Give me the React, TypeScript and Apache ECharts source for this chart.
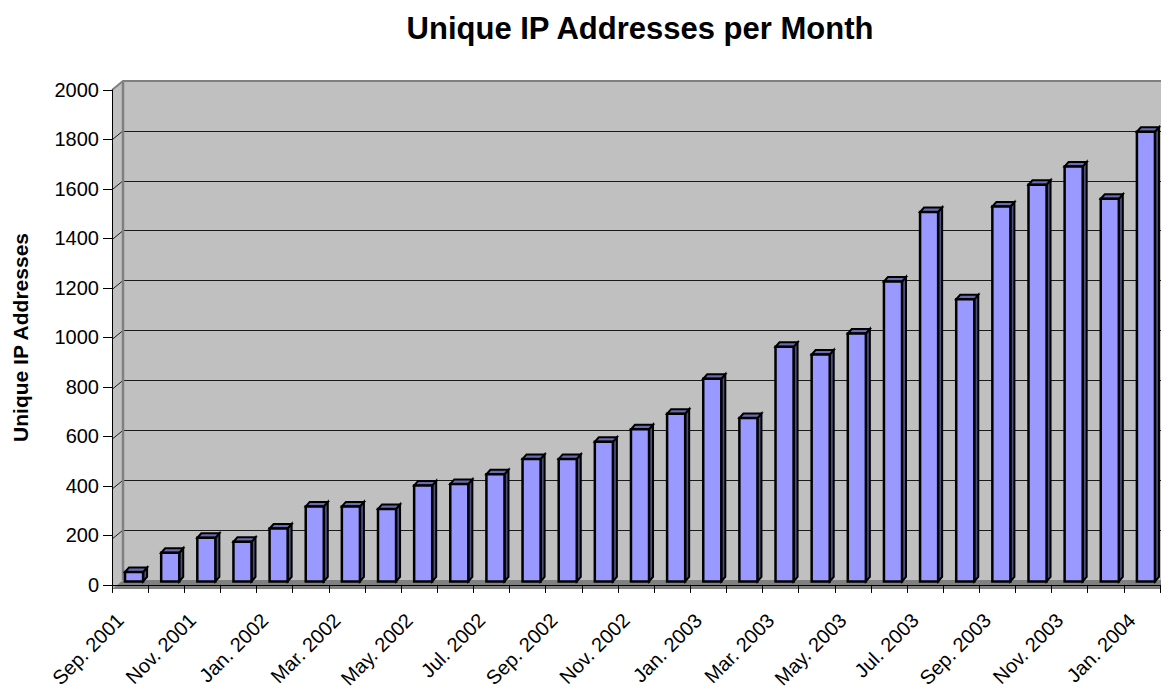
import React, { useEffect, useRef } from "react";
import * as echarts from "echarts";

const months: string[] = [
  "Sep. 2001", "Oct. 2001", "Nov. 2001", "Dec. 2001",
  "Jan. 2002", "Feb. 2002", "Mar. 2002", "Apr. 2002", "May. 2002", "Jun. 2002",
  "Jul. 2002", "Aug. 2002", "Sep. 2002", "Oct. 2002", "Nov. 2002", "Dec. 2002",
  "Jan. 2003", "Feb. 2003", "Mar. 2003", "Apr. 2003", "May. 2003", "Jun. 2003",
  "Jul. 2003", "Aug. 2003", "Sep. 2003", "Oct. 2003", "Nov. 2003", "Dec. 2003",
  "Jan. 2004",
];

const uniqueIPs: number[] = [
  38, 116, 176, 160, 214, 303, 303, 293, 388, 394, 433, 495, 495, 564, 615,
  678, 819, 660, 948, 917, 1002, 1212, 1493, 1140, 1515, 1603, 1677, 1546, 1817,
];

const yTicks: number[] = [0, 200, 400, 600, 800, 1000, 1200, 1400, 1600, 1800, 2000];

const TITLE = "Unique IP Addresses per Month";
const Y_NAME = "Unique IP Addresses";

const W = 1161;
const H = 691;
const FONT = 'Arial, "Liberation Sans", sans-serif';

// layout (front plane of the 3D box and its depth offset)
const FL = 112;
const FT = 90;
const FB = 589;
const FR = 1160;
const DX = 11;
const DY = -9;

export default function App() {
  const ref = useRef<HTMLDivElement>(null);

  useEffect(() => {
    document.body.style.margin = "0";
    if (!ref.current) return;
    const chart = echarts.init(ref.current, undefined, { renderer: "svg" });

    const yMin = yTicks[0];
    const yMax = yTicks[yTicks.length - 1];
    const yStep = yTicks[1] - yTicks[0];
    const fh = FB - FT;
    const yFront = (v: number) => FB - ((v - yMin) / (yMax - yMin)) * fh;

    const graphics: any[] = [];
    // left side wall
    graphics.push({
      type: "polygon",
      z: 1,
      silent: true,
      shape: { points: [[FL, FB], [FL, FT], [FL + DX, FT + DY], [FL + DX, FB + DY]] },
      style: { fill: "#c0c0c0", stroke: "none" },
    });
    // diagonal gridlines on side wall
    yTicks.slice(1, -1).forEach((v) => {
      const y = yFront(v);
      graphics.push({
        type: "line",
        z: 1,
        silent: true,
        shape: { x1: FL, y1: y, x2: FL + DX, y2: y + DY },
        style: { stroke: "#1a1a1a", lineWidth: 1 },
      });
    });
    // floor
    graphics.push({
      type: "polygon",
      z: 1,
      silent: true,
      shape: { points: [[FL, FB], [FL + DX, FB + DY], [W, FB + DY], [W, FB]] },
      style: { fill: "#808080", stroke: "none" },
    });
    // wall borders
    graphics.push({
      type: "polyline",
      z: 1,
      silent: true,
      shape: { points: [[FL, FT], [FL + DX, FT + DY], [W, FT + DY]] },
      style: { stroke: "#808080", lineWidth: 2, fill: "none" },
    });
    graphics.push({
      type: "line",
      z: 1,
      silent: true,
      shape: { x1: FL + DX, y1: FT + DY, x2: FL + DX, y2: FB + DY },
      style: { stroke: "#808080", lineWidth: 2.5 },
    });
    // title
    graphics.push({
      type: "text",
      z: 10,
      x: 640,
      y: 13,
      style: {
        text: TITLE,
        font: `bold 31px ${FONT}`,
        fill: "#000",
        textAlign: "center",
        textVerticalAlign: "top",
      },
    });

    const renderBar = (params: any, api: any) => {
      const i = api.value(0);
      const v = api.value(1);
      const base = api.coord([i, 0]);
      const top = api.coord([i, v]);
      const band = api.size([1, 0])[0];
      const w = band * 0.5;
      const ox = 4;
      const oy = -3.5;
      const ddx = 4;
      const ddy = -4.5;
      const x0 = base[0] + ox - w / 2;
      const x1 = x0 + w;
      const yb = base[1] + oy;
      const yt = top[1] + oy;
      return {
        type: "group",
        children: [
          {
            type: "polygon",
            shape: { points: [[x1, yb], [x1, yt], [x1 + ddx, yt + ddy], [x1 + ddx, yb + ddy]] },
            style: { fill: "#4d4d80", stroke: "#000", lineWidth: 2, lineJoin: "miter" },
          },
          {
            type: "polygon",
            shape: { points: [[x0, yt], [x1, yt], [x1 + ddx, yt + ddy], [x0 + ddx, yt + ddy]] },
            style: { fill: "#6b6bb3", stroke: "#000", lineWidth: 2, lineJoin: "miter" },
          },
          {
            type: "rect",
            shape: { x: x0, y: yt, width: w, height: yb - yt },
            style: { fill: "#9999ff", stroke: "#000", lineWidth: 2.5 },
          },
        ],
      };
    };

    chart.setOption({
      animation: false,
      backgroundColor: "#ffffff",
      textStyle: { fontFamily: FONT },
      grid: [
        { left: FL, top: FT, width: FR - FL, height: fh, containLabel: false },
        {
          left: FL + DX,
          top: FT + DY,
          width: W - (FL + DX),
          height: fh,
          show: true,
          backgroundColor: "#c0c0c0",
          borderWidth: 0,
          containLabel: false,
        },
      ],
      xAxis: [
        {
          gridIndex: 0,
          type: "category",
          data: months,
          boundaryGap: true,
          z: 3,
          axisLine: { show: true, lineStyle: { color: "#000", width: 1 } },
          axisTick: { show: true, interval: 0, length: 8, lineStyle: { color: "#000" } },
          axisLabel: {
            interval: 1,
            rotate: 45,
            margin: 22,
            padding: [0, 14, 0, 0],
            fontSize: 20,
            color: "#000",
            fontFamily: FONT,
          },
          splitLine: { show: false },
        },
        {
          gridIndex: 1,
          type: "category",
          data: months,
          show: false,
        },
      ],
      yAxis: [
        {
          gridIndex: 0,
          type: "value",
          min: yMin,
          max: yMax,
          interval: yStep,
          z: 3,
          name: Y_NAME,
          nameLocation: "middle",
          nameGap: 81,
          nameTextStyle: { fontSize: 21, fontWeight: "bold", color: "#000", fontFamily: FONT },
          axisLine: { show: true, lineStyle: { color: "#000", width: 1 } },
          axisTick: { show: true, length: 9, lineStyle: { color: "#000" } },
          axisLabel: {
            margin: 13,
            fontSize: 20,
            color: "#000",
            fontFamily: FONT,
            formatter: (v: number) => String(v),
          },
          splitLine: { show: false },
        },
        {
          gridIndex: 1,
          type: "value",
          min: yMin,
          max: yMax,
          interval: yStep,
          axisLine: { show: false },
          axisTick: { show: false },
          axisLabel: { show: false },
          splitLine: {
            show: true,
            showMinLine: false,
            showMaxLine: false,
            lineStyle: { color: "#1a1a1a", width: 1 },
          },
        },
      ],
      graphic: graphics,
      series: [
        {
          type: "custom",
          name: Y_NAME,
          xAxisIndex: 0,
          yAxisIndex: 0,
          z: 5,
          clip: false,
          renderItem: renderBar,
          encode: { x: 0, y: 1 },
          data: uniqueIPs.map((v, i) => [i, v]),
        },
      ],
    });

    return () => {
      chart.dispose();
    };
  }, []);

  return <div ref={ref} style={{ width: W, height: H }} />;
}
